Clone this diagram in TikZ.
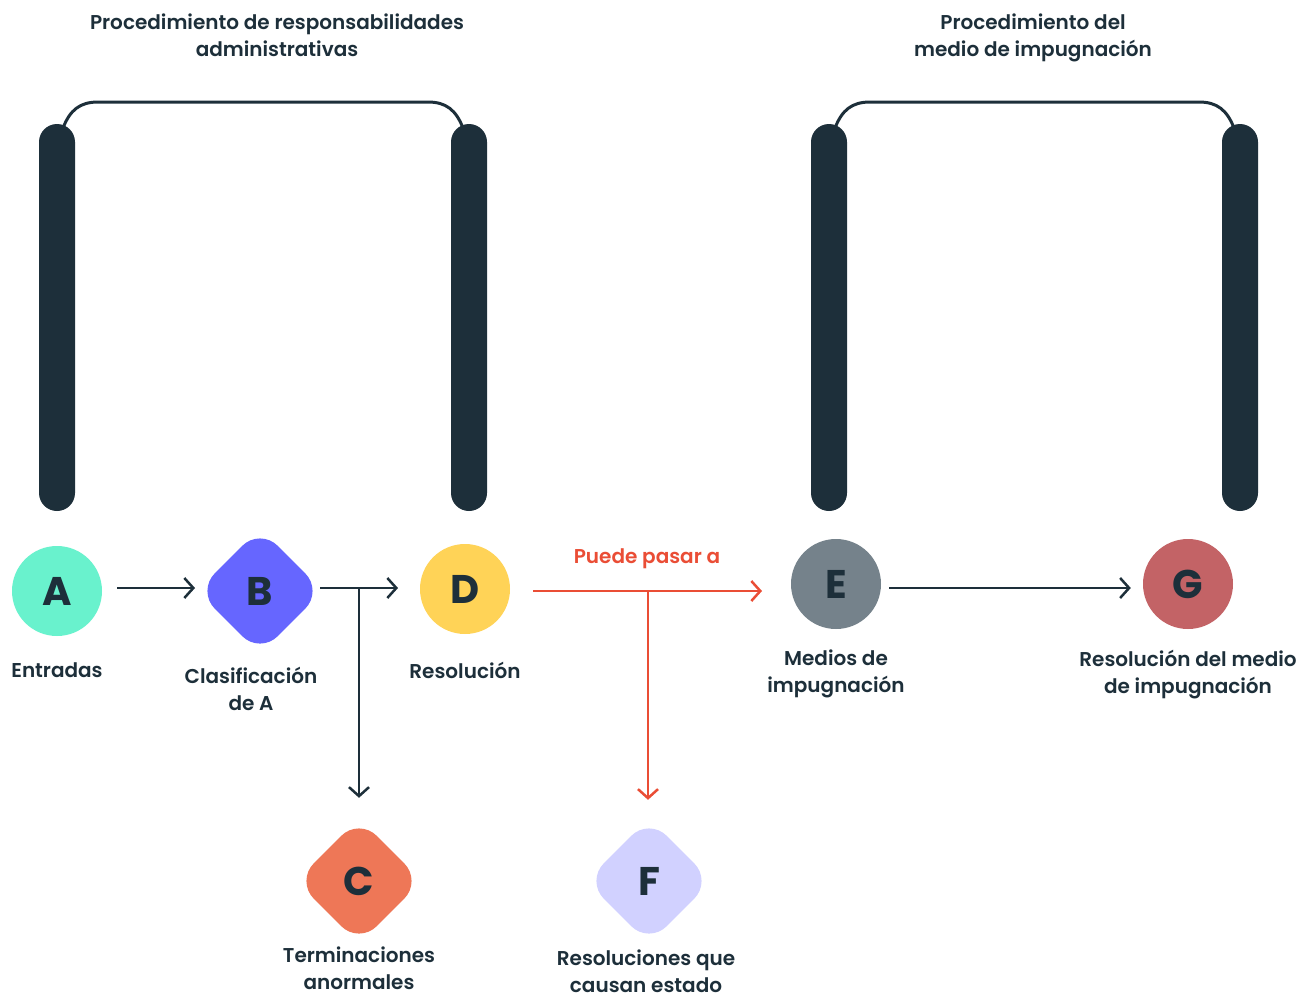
\documentclass[tikz,border=0pt]{standalone}
\usepackage{fontspec}
\setmainfont{Poppins}[UprightFont={* SemiBold},BoldFont={* Bold}]
\usetikzlibrary{arrows.meta,shapes.geometric}
\definecolor{dark}{HTML}{1D2F3A}
\definecolor{mint}{HTML}{69F2CD}
\definecolor{violet}{HTML}{6666FF}
\definecolor{sun}{HTML}{FFD357}
\definecolor{slate}{HTML}{75828B}
\definecolor{rose}{HTML}{C36366}
\definecolor{coral}{HTML}{EE7757}
\definecolor{lav}{HTML}{D1D1FF}
\definecolor{redline}{HTML}{EA4D35}
\tikzset{
  bar/.style={rectangle,fill=dark,rounded corners=18pt,minimum width=36pt,minimum height=387pt,inner sep=0pt},
  bracket/.style={draw=dark,line width=3pt},
  circ/.style={circle,minimum size=90pt,inner sep=0pt,text=dark,font=\fontsize{40}{44}\selectfont\bfseries},
  dmd/.style={diamond,aspect=1,minimum size=126pt,inner sep=0pt,rounded corners=25pt,text=dark,font=\fontsize{40}{44}\selectfont\bfseries},
  lbl/.style={align=center,text=dark,font=\fontsize{20}{27}\selectfont,inner sep=0pt,text depth=0pt},
  arr/.style={draw=dark,line width=2.5pt,-{Straight Barb[length=9pt,width=20pt,line width=2.5pt]}},
  redarr/.style={draw=redline,line width=2.5pt,-{Straight Barb[length=9pt,width=20pt,line width=2.5pt]}},
}
\begin{document}
\begin{tikzpicture}[x=1pt,y=-1pt]
\useasboundingbox[fill=white] (0,0) rectangle (1302,997);
% titles
\node[lbl] (t1) at (277,35) {Procedimiento de responsabilidades\\administrativas};
\node[lbl] (t2) at (1033,35) {Procedimiento del\\medio de impugnación};
% bars
\node[bar] (bar1) at (57,317.5) {};
\node[bar] (bar2) at (469,317.5) {};
\node[bar] (bar3) at (829,317.5) {};
\node[bar] (bar4) at (1240,317.5) {};
\coordinate (b1s) at (63,128);
\coordinate (b2s) at (463,128);
\coordinate (b3s) at (835,128);
\coordinate (b4s) at (1234,128);
\draw[bracket] (b1s) .. controls (70,110) and (80,102) .. (98,102) -- (428,102) .. controls (446,102) and (456,110) .. (b2s);
\draw[bracket] (b3s) .. controls (842,110) and (852,102) .. (870,102) -- (1199,102) .. controls (1217,102) and (1227,110) .. (b4s);
% nodes
\node[circ,fill=mint] (A) at (57,591) {A};
\node[dmd,fill=violet] (B) at (260,591) {B};
\node[circ,fill=sun] (D) at (465,589) {D};
\node[circ,fill=slate] (E) at (836,584) {E};
\node[circ,fill=rose] (G) at (1188,584) {G};
\node[dmd,fill=coral] (C) at (359,881) {C};
\node[dmd,fill=lav] (F) at (649,881) {F};
% labels
\node[lbl] (lA) at (57,670) {Entradas};
\node[lbl] (lB) at (251,688.5) {Clasificación\\de A};
\node[lbl] (lD) at (465,670) {Resolución};
\node[lbl] (lE) at (836,671.5) {Medios de\\impugnación};
\node[lbl] (lG) at (1188,671.5) {Resolución del medio\\de impugnación};
\node[lbl] (lC) at (359,968) {Terminaciones\\anormales};
\node[lbl] (lF) at (646,971) {Resoluciones que\\causan estado};
\node[lbl,text=redline] (lP) at (647,556) {Puede pasar a};
% connectors
\coordinate (ab1) at (117,588);
\coordinate (ab2) at (195,588);
\coordinate (bd1) at (320,588);
\coordinate (bd2) at (398,588);
\draw[arr] (ab1) -- (ab2);
\draw[arr] (bd1) -- (bd2);
\draw[arr] (C.north |- bd1) -- ([yshift=20pt]C.north);
\coordinate (de1) at (533,591);
\coordinate (de2) at (762,591);
\draw[redarr] (de1) -- (de2);
\draw[redarr] (648,591) -- ([yshift=18pt,xshift=-1pt]F.north);
\draw[arr] ([xshift=8pt,yshift=-4pt]E.east) -- ([xshift=-12pt,yshift=-4pt]G.west);
\end{tikzpicture}
\end{document}
